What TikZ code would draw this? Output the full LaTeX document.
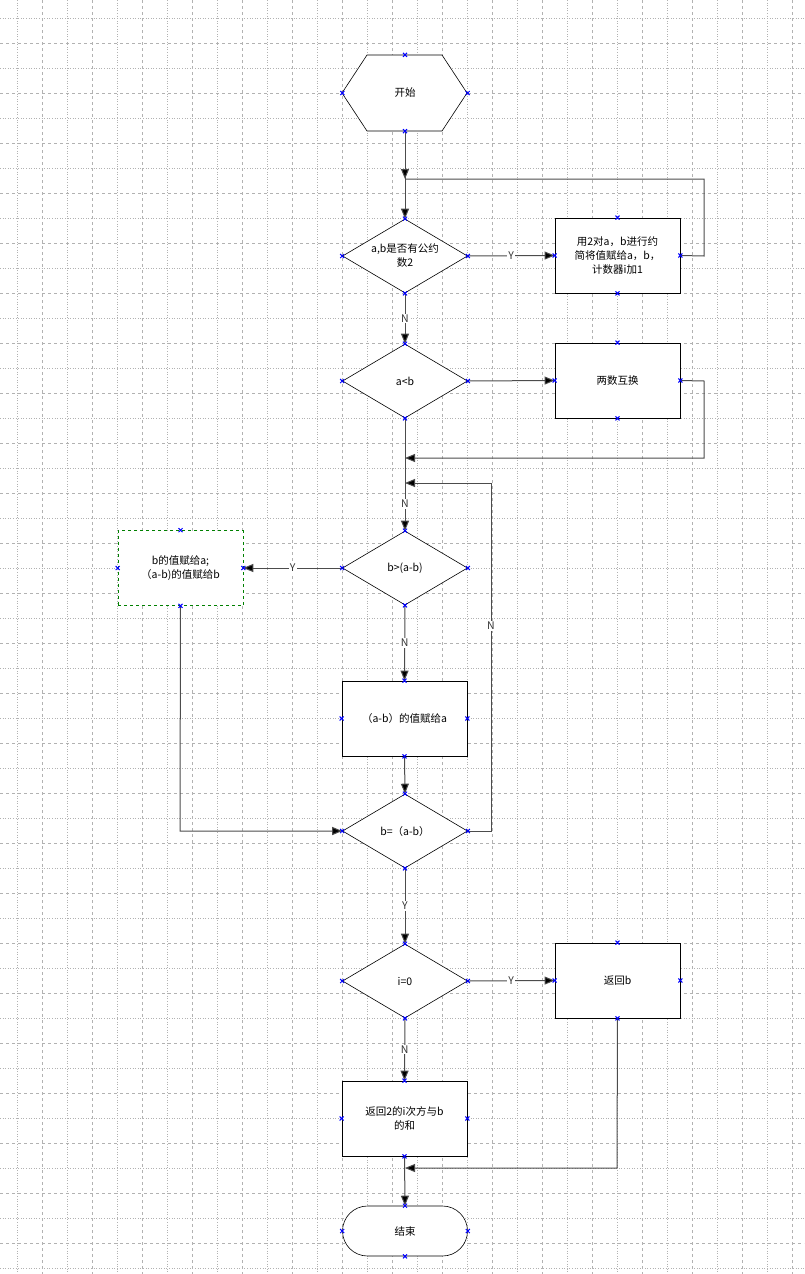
\documentclass[tikz,border=0pt]{standalone}
\usepackage{fontspec}
\setmainfont{Noto Sans CJK SC}
\usetikzlibrary{shapes.geometric,arrows.meta}
\begin{document}
\begin{tikzpicture}[x=1pt,y=-1pt,
  font=\fontsize{10.5}{14}\selectfont,
  box/.style={draw=black,line width=0.8pt,minimum width=125pt,minimum height=75pt,inner sep=2pt,align=center,text width=118pt},
  dia/.style={draw=black,line width=0.6pt,diamond,aspect=1.69,minimum width=125pt,minimum height=74pt,inner sep=-4pt,align=center},
  con/.style={draw=black!70,line width=1pt},
  arr/.style={con,-{Triangle[length=10pt,width=8pt,fill=black]}},
  lab/.style={fill=white,inner sep=1pt,text=black!80},
  mk/.style={draw=blue,line width=1pt}]
\useasboundingbox (0,0) rectangle (804,1274);
% grid
\foreach \x in {17,67,...,804} \draw[gray!60,dotted,line width=0.6pt] (\x,0)--(\x,1274);
\foreach \x in {42,92,...,804} \draw[gray!60,dashed,line width=0.6pt] (\x,0)--(\x,1274);
\foreach \y in {18,68,...,1274} \draw[gray!60,dotted,line width=0.6pt] (0,\y)--(804,\y);
\foreach \y in {43,93,...,1274} \draw[gray!60,dashed,line width=0.6pt] (0,\y)--(804,\y);
% start hexagon
\fill[white] (342,93)--(367,55)--(442,55)--(467,93)--(442,131)--(367,131)--cycle;
\draw[line width=0.6pt] (342,93)--(367,55)--(442,55)--(467,93)--(442,131)--(367,131)--cycle;
\node[minimum width=125pt,minimum height=76pt] (s) at (405,93) {开始};
\node[dia,fill=white] (d1) at (405,256) {a,b是否有公约\\数2};
\node[box,fill=white] (b1) at (617.5,255.5) {用2对a，b进行约\\简将值赋给a，b，\\计数器i加1};
\node[dia,fill=white] (d2) at (405,381) {a<b};
\node[box,fill=white] (b2) at (617.5,380.5) {两数互换};
\node[dia,fill=white] (d3) at (405,568) {b>(a-b)};
\node[box,fill=white,draw=green!50!black,dashed,line width=0.6pt] (b3) at (180.5,568) {b的值赋给a;\\（a-b)的值赋给b};
\node[box,fill=white] (b4) at (404.5,718.5) {（a-b）的值赋给a};
\node[dia,fill=white] (d4) at (405,831) {b=（a-b）};
\node[dia,fill=white] (d5) at (405,981) {i=0};
\node[box,fill=white] (b5) at (617.5,980.5) {返回b};
\node[box,fill=white] (b6) at (404.5,1118.5) {返回2的i次方与b\\的和};
\node[draw=black,line width=0.6pt,fill=white,rounded corners=25pt,minimum width=125pt,minimum height=50pt] (e) at (405,1231) {结束};
\coordinate (c1) at (405,179);
\coordinate (c2) at (405,458);
\coordinate (c3) at (405,483);
\coordinate (c4) at (405,1168);
% connectors
\draw[arr] (s.south) -- (d1.north);
\draw[con] (b1.east) -- (704,256) -- (704,179) -- (c1);
\draw[arr] (405,172) -- (c1);
\draw[arr] (d1.east) -- node[lab]{Y} (b1.west);
\draw[arr] (d1.south) -- node[lab]{N} (d2.north);
\draw[arr] (d2.east) -- (b2.west);
\draw[arr] (b2.east) -- (704,381) -- (704,458) -- (c2);
\draw[arr] (d2.south) -- node[lab,pos=0.76]{N} (d3.north);
\draw[arr] (d3.west) -- node[lab]{Y} (b3.east);
\draw[arr] (d3.south) -- node[lab]{N} (b4.north);
\draw[arr] (b4.south) -- (d4.north);
\draw[arr] (b3.south) -- (180,831) -- (d4.west);
\draw[arr] (d4.east) -- (491,831) -- node[lab,pos=0.59]{N} (491,483) -- (c3);
\draw[arr] (d4.south) -- node[lab]{Y} (d5.north);
\draw[arr] (d5.east) -- node[lab]{Y} (b5.west);
\draw[arr] (d5.south) -- node[lab]{N} (b6.north);
\draw[arr] (b6.south) -- (e.north);
\draw[arr] (b5.south) -- (617,1168) -- (c4);
% markers
\foreach \n in {d1,b1,d2,b2,d3,b3,b4,d4,d5,b5,b6,e,s}
  \foreach \a in {north,south,east,west}
    \draw[mk] ([shift={(-2pt,-2pt)}]\n.\a) -- ++(4pt,4pt) ([shift={(-2pt,2pt)}]\n.\a) -- ++(4pt,-4pt);
\end{tikzpicture}
\end{document}
